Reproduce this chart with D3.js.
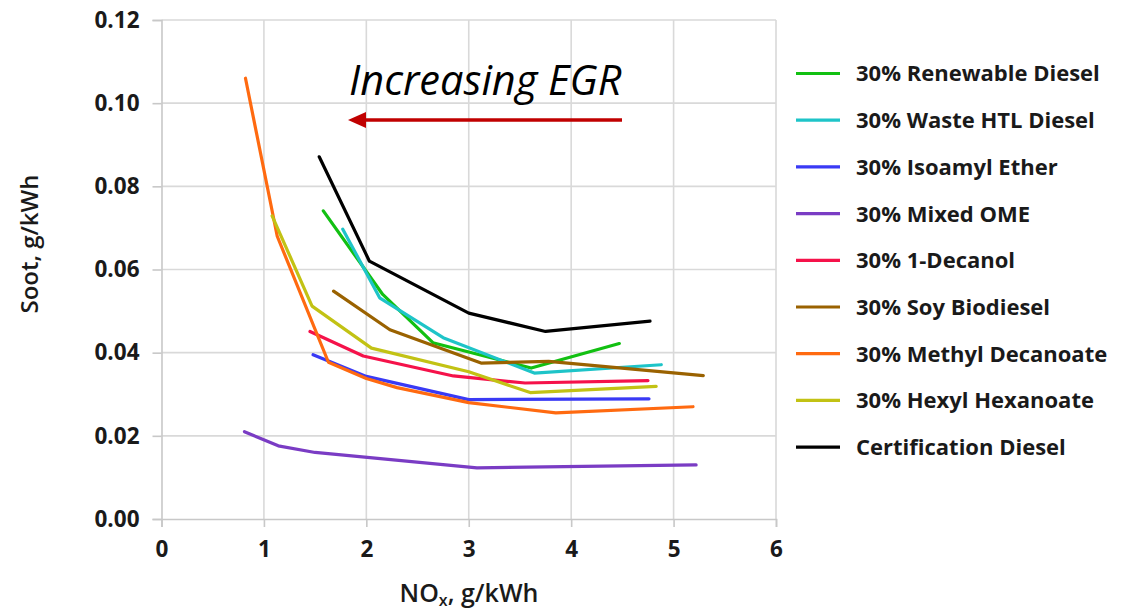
<!DOCTYPE html>
<html>
<head>
<meta charset="utf-8">
<script src="https://cdn.jsdelivr.net/npm/d3@7"></script>
<style>
  html, body { margin: 0; padding: 0; background: #fff; }
  svg { display: block; }
  text { font-family: "Open Sans", sans-serif; }
</style>
</head>
<body>
<svg id="chart" width="1139" height="613"></svg>
<script>
// ---- data (NOx g/kWh, Soot g/kWh) ----
const seriesNames = [
  "30% Renewable Diesel", "30% Waste HTL Diesel", "30% Isoamyl Ether",
  "30% Mixed OME", "30% 1-Decanol", "30% Soy Biodiesel",
  "30% Methyl Decanoate", "30% Hexyl Hexanoate", "Certification Diesel"
];
const seriesColors = ["#12c012", "#1ec4c8", "#3a3af5", "#7a3cc4", "#f5124a",
                      "#9a6200", "#ff6a10", "#c2c214", "#000000"];

const renewableDiesel = [[1.58,0.0741],[2.16,0.0540],[2.65,0.0424],[3.61,0.0363],[4.47,0.0422]];
const wasteHTLDiesel  = [[1.77,0.0697],[2.13,0.0532],[2.75,0.0436],[3.64,0.0351],[4.88,0.0371]];
const isoamylEther    = [[1.48,0.0395],[1.63,0.0380],[2.00,0.0343],[3.00,0.0287],[4.76,0.0289]];
const mixedOME        = [[0.81,0.0210],[1.14,0.0176],[1.50,0.0160],[3.08,0.0123],[5.22,0.0130]];
const decanol         = [[1.45,0.0451],[1.97,0.0392],[2.85,0.0344],[3.55,0.0327],[4.75,0.0333]];
const soyBiodiesel    = [[1.68,0.0548],[2.23,0.0455],[3.12,0.0375],[3.78,0.0379],[5.29,0.0345]];
const methylDecanoate = [[0.82,0.1060],[1.13,0.0680],[1.63,0.0377],[2.00,0.0338],[2.30,0.0316],[3.00,0.0280],[3.85,0.0255],[5.19,0.0270]];
const hexylHexanoate  = [[1.08,0.0729],[1.47,0.0512],[2.05,0.0411],[3.00,0.0354],[3.60,0.0304],[4.83,0.0319]];
const certDiesel      = [[1.54,0.0871],[2.03,0.0620],[3.00,0.0495],[3.75,0.0451],[4.77,0.0476]];

const seriesData = [renewableDiesel, wasteHTLDiesel, isoamylEther, mixedOME, decanol,
                    soyBiodiesel, methylDecanoate, hexylHexanoate, certDiesel];

const xTicks = [0, 1, 2, 3, 4, 5, 6];
const yTicks = [0, 0.02, 0.04, 0.06, 0.08, 0.10, 0.12];

// ---- drawing ----
const svg = d3.select("#chart");
const x = d3.scaleLinear().domain([0, 6]).range([161.5, 776]);
const y = d3.scaleLinear().domain([0, 0.12]).range([519, 20]);

const grid = svg.append("g");
grid.selectAll("line.v").data(xTicks.slice(1)).join("line")
  .attr("x1", d => x(d)).attr("x2", d => x(d))
  .attr("y1", y(0.12)).attr("y2", y(0))
  .attr("stroke", "#d9d9d9").attr("stroke-width", 1.6);
grid.selectAll("line.h").data(yTicks.slice(1)).join("line")
  .attr("x1", x(0)).attr("x2", x(6))
  .attr("y1", d => y(d)).attr("y2", d => y(d))
  .attr("stroke", "#d9d9d9").attr("stroke-width", 1.6);

const xAxis = svg.append("g").attr("transform", `translate(0,${y(0)})`)
  .call(d3.axisBottom(x).tickValues(xTicks).tickFormat(d3.format("d")).tickSize(8).tickPadding(14));
const yAxis = svg.append("g").attr("transform", `translate(${x(0)},0)`)
  .call(d3.axisLeft(y).tickValues(yTicks).tickFormat(d3.format(".2f")).tickSize(9).tickPadding(13));
[xAxis, yAxis].forEach(a => {
  a.select(".domain").attr("stroke", "#c8c8c8").attr("stroke-width", 1.6);
  a.selectAll(".tick line").attr("stroke", "#c8c8c8").attr("stroke-width", 1.6);
  a.selectAll(".tick text").attr("fill", "#1a1a1a").attr("font-size", 22.5)
    .attr("font-weight", "bold").attr("font-family", "'Open Sans', sans-serif");
});

const line = d3.line().x(d => x(d[0])).y(d => y(d[1]));
svg.append("g").selectAll("path").data(seriesData).join("path")
  .attr("d", line).attr("fill", "none")
  .attr("stroke", (d, i) => seriesColors[i])
  .attr("stroke-width", 3.2).attr("stroke-linejoin", "round").attr("stroke-linecap", "round");

// axis titles
svg.append("text").attr("transform", `translate(38,244) rotate(-90)`)
  .attr("text-anchor", "middle").attr("font-size", 24).attr("font-weight", 600)
  .attr("fill", "#1a1a1a").text("Soot, g/kWh");
const xt = svg.append("text").attr("x", 469).attr("y", 602)
  .attr("text-anchor", "middle").attr("font-size", 25).attr("font-weight", 600).attr("fill", "#1a1a1a");
xt.append("tspan").text("NO");
xt.append("tspan").attr("font-size", 16).attr("dy", 4).text("x");
xt.append("tspan").attr("dy", -4).text(", g/kWh");

// annotation
svg.append("text").attr("x", 349).attr("y", 95)
  .attr("font-size", 41.5).attr("font-style", "italic").attr("fill", "#000")
  .text("Increasing EGR");
svg.append("line").attr("x1", 622).attr("x2", 362).attr("y1", 120).attr("y2", 120)
  .attr("stroke", "#c00000").attr("stroke-width", 3.5);
svg.append("path").attr("d", "M348,120 L366,112 L366,128 Z").attr("fill", "#c00000");

// legend
const legend = svg.append("g");
const rows = legend.selectAll("g").data(seriesNames).join("g")
  .attr("transform", (d, i) => `translate(796,${73.5 + i * 46.7})`);
rows.append("line").attr("x1", 0).attr("x2", 44).attr("y1", 0).attr("y2", 0)
  .attr("stroke", (d, i) => seriesColors[i]).attr("stroke-width", 3.2);
rows.append("text").attr("x", 60).attr("y", 0).attr("dy", "0.36em")
  .attr("font-size", 22).attr("font-weight", "bold").attr("fill", "#1a1a1a").text(d => d);
</script>
</body>
</html>
